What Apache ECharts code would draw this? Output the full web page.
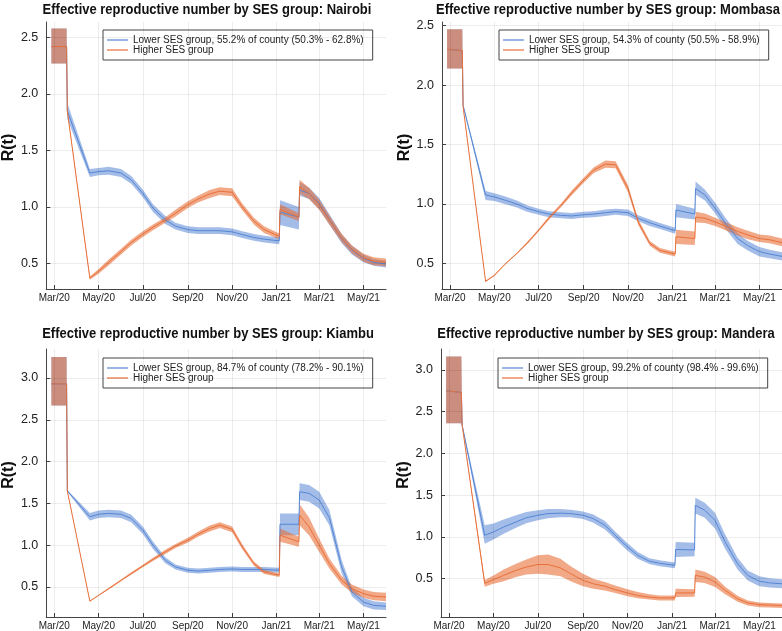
<!DOCTYPE html>
<html><head><meta charset="utf-8">
<script src="https://cdn.jsdelivr.net/npm/echarts@6/dist/echarts.min.js"></script>
<style>html,body{margin:0;padding:0;background:#fff}#c{width:782px;height:631px}</style>
</head><body><div id="c"></div>
<script>
// ---------- data ----------
const dates = ['2020-02-26','2020-03-18','2020-03-19','2020-04-19','2020-05-01','2020-05-15','2020-06-01','2020-06-15',
  '2020-07-01','2020-07-15','2020-08-01','2020-08-15','2020-09-01','2020-09-15','2020-10-01','2020-10-15',
  '2020-11-01','2020-11-15','2020-12-01','2020-12-15','2021-01-05','2021-01-06','2021-02-01','2021-02-02',
  '2021-02-15','2021-03-01','2021-03-15','2021-04-01','2021-04-15','2021-05-01','2021-05-15','2021-06-01'];

const xTickDates = ['2020-03-01','2020-05-01','2020-07-01','2020-09-01','2020-11-01','2021-01-01','2021-03-01','2021-05-01'];
const xTickLabels = ['Mar/20','May/20','Jul/20','Sep/20','Nov/20','Jan/21','Mar/21','May/21'];
const yTicksA = [0.5, 1.0, 1.5, 2.0, 2.5];
const yTicksB = [0.5, 1.0, 1.5, 2.0, 2.5, 3.0];

const countyNames = ['Nairobi', 'Mombasa', 'Kiambu', 'Mandera'];
const lowerLabels = [
  'Lower SES group, 55.2% of county (50.3% - 62.8%)',
  'Lower SES group, 54.3% of county (50.5% - 58.9%)',
  'Lower SES group, 84.7% of county (78.2% - 90.1%)',
  'Lower SES group, 99.2% of county (98.4% - 99.6%)'
];
const higherLabel = 'Higher SES group';

// Nairobi
const NAI_L_mean = [2.42,2.42,1.85,1.30,1.313,1.32,1.30,1.24,1.12,0.99,0.885,0.83,0.80,0.79,0.79,0.79,0.78,0.755,0.73,0.715,0.70,0.955,0.91,1.15,1.12,1.03,0.89,0.72,0.62,0.545,0.51,0.495];
const NAI_L_lo   = [2.27,2.27,1.78,1.265,1.28,1.285,1.265,1.205,1.085,0.955,0.85,0.80,0.77,0.76,0.76,0.76,0.75,0.725,0.70,0.685,0.67,0.84,0.80,1.10,1.07,0.98,0.845,0.68,0.58,0.51,0.48,0.465];
const NAI_L_hi   = [2.58,2.58,1.92,1.335,1.345,1.355,1.335,1.275,1.155,1.025,0.92,0.86,0.83,0.82,0.82,0.82,0.81,0.785,0.76,0.745,0.73,1.06,1.00,1.22,1.17,1.08,0.935,0.76,0.66,0.58,0.54,0.525];
const NAI_H_mean = [2.42,2.42,1.85,0.37,0.43,0.51,0.605,0.685,0.76,0.82,0.885,0.945,1.02,1.07,1.115,1.14,1.13,1.0,0.875,0.80,0.74,0.98,0.91,1.18,1.12,1.02,0.885,0.725,0.625,0.55,0.52,0.51];
const NAI_H_lo   = [2.27,2.27,1.84,0.355,0.41,0.485,0.58,0.66,0.735,0.795,0.86,0.915,0.99,1.04,1.08,1.105,1.095,0.97,0.845,0.77,0.715,0.935,0.875,1.12,1.07,0.975,0.845,0.69,0.59,0.515,0.485,0.475];
const NAI_H_hi   = [2.58,2.58,1.86,0.385,0.45,0.535,0.63,0.71,0.785,0.845,0.91,0.975,1.05,1.10,1.15,1.175,1.165,1.03,0.905,0.83,0.765,1.025,0.945,1.24,1.17,1.065,0.925,0.76,0.66,0.585,0.555,0.545];

// Mombasa
const MOM_L_mean = [2.30,2.29,1.83,1.076,1.06,1.034,1.0,0.964,0.936,0.916,0.905,0.90,0.91,0.916,0.927,0.936,0.927,0.88,0.843,0.815,0.776,0.95,0.916,1.13,1.076,0.964,0.84,0.71,0.65,0.60,0.58,0.56];
const MOM_L_lo   = [2.14,2.14,1.82,1.035,1.025,1.0,0.97,0.935,0.91,0.89,0.88,0.875,0.885,0.89,0.90,0.91,0.90,0.855,0.815,0.79,0.75,0.89,0.87,1.08,1.03,0.92,0.795,0.665,0.61,0.56,0.545,0.525];
const MOM_L_hi   = [2.47,2.47,1.84,1.11,1.09,1.065,1.03,0.99,0.96,0.94,0.93,0.925,0.935,0.94,0.955,0.96,0.955,0.905,0.87,0.84,0.80,1.0,0.96,1.19,1.12,1.01,0.885,0.755,0.69,0.64,0.615,0.595];
const MOM_H_mean = [2.30,2.29,1.82,0.35,0.40,0.49,0.585,0.67,0.78,0.88,0.99,1.09,1.20,1.286,1.336,1.33,1.13,0.85,0.67,0.61,0.58,0.725,0.71,0.89,0.88,0.85,0.815,0.77,0.74,0.71,0.70,0.675];
const MOM_H_lo   = [2.14,2.14,1.815,0.345,0.395,0.485,0.58,0.66,0.77,0.865,0.975,1.07,1.18,1.26,1.305,1.30,1.10,0.825,0.65,0.59,0.56,0.665,0.655,0.845,0.84,0.815,0.78,0.735,0.705,0.68,0.67,0.645];
const MOM_H_hi   = [2.47,2.47,1.825,0.355,0.405,0.495,0.59,0.68,0.79,0.895,1.005,1.11,1.22,1.31,1.365,1.36,1.16,0.875,0.69,0.63,0.60,0.785,0.77,0.935,0.92,0.885,0.85,0.805,0.775,0.745,0.735,0.71];

// Kiambu
const KIA_L_mean = [2.93,2.93,1.65,1.34,1.37,1.38,1.37,1.32,1.18,1.0,0.82,0.74,0.70,0.69,0.70,0.71,0.715,0.71,0.71,0.71,0.70,1.25,1.25,1.64,1.62,1.54,1.33,0.74,0.44,0.32,0.28,0.27];
const KIA_L_lo   = [2.67,2.67,1.64,1.295,1.325,1.335,1.325,1.275,1.135,0.955,0.785,0.71,0.67,0.66,0.67,0.68,0.685,0.68,0.68,0.68,0.67,1.12,1.12,1.54,1.52,1.44,1.24,0.66,0.39,0.27,0.23,0.225];
const KIA_L_hi   = [3.25,3.25,1.66,1.385,1.415,1.425,1.415,1.365,1.225,1.045,0.855,0.77,0.73,0.72,0.73,0.74,0.745,0.74,0.74,0.74,0.73,1.38,1.38,1.74,1.72,1.64,1.42,0.82,0.49,0.37,0.33,0.315];
const KIA_H_mean = [2.93,2.93,1.65,0.33,0.40,0.48,0.58,0.66,0.75,0.83,0.92,0.99,1.06,1.13,1.20,1.24,1.19,0.98,0.78,0.68,0.64,1.12,1.04,1.36,1.22,1.0,0.78,0.58,0.48,0.42,0.39,0.38];
const KIA_H_lo   = [2.67,2.67,1.645,0.325,0.395,0.47,0.57,0.645,0.735,0.81,0.895,0.965,1.03,1.10,1.165,1.205,1.155,0.95,0.755,0.655,0.62,1.04,0.98,1.24,1.12,0.92,0.72,0.53,0.43,0.37,0.34,0.33];
const KIA_H_hi   = [3.25,3.25,1.655,0.335,0.405,0.49,0.59,0.675,0.765,0.85,0.945,1.015,1.09,1.16,1.235,1.275,1.225,1.01,0.805,0.705,0.66,1.20,1.10,1.49,1.33,1.08,0.84,0.63,0.53,0.47,0.44,0.43];

// Mandera
const MAN_L_mean = [2.75,2.73,2.34,1.02,1.06,1.12,1.18,1.23,1.26,1.28,1.285,1.28,1.26,1.22,1.14,1.02,0.88,0.78,0.71,0.685,0.66,0.85,0.845,1.38,1.32,1.20,0.94,0.68,0.54,0.47,0.45,0.44];
const MAN_L_lo   = [2.36,2.36,2.33,0.92,0.97,1.04,1.11,1.165,1.20,1.225,1.235,1.235,1.215,1.17,1.09,0.975,0.835,0.74,0.675,0.65,0.625,0.76,0.77,1.28,1.23,1.10,0.86,0.61,0.48,0.41,0.395,0.385];
const MAN_L_hi   = [3.16,3.16,2.35,1.14,1.16,1.21,1.26,1.30,1.32,1.335,1.335,1.325,1.305,1.27,1.19,1.065,0.925,0.82,0.745,0.72,0.695,0.94,0.93,1.47,1.41,1.29,1.03,0.75,0.60,0.53,0.505,0.495];
const MAN_H_mean = [2.75,2.73,2.34,0.445,0.49,0.54,0.60,0.64,0.67,0.67,0.63,0.56,0.48,0.44,0.41,0.37,0.33,0.30,0.28,0.27,0.27,0.33,0.33,0.54,0.52,0.46,0.36,0.26,0.21,0.19,0.185,0.18];
const MAN_H_lo   = [2.36,2.36,2.33,0.405,0.44,0.47,0.52,0.55,0.56,0.55,0.53,0.47,0.41,0.38,0.36,0.33,0.29,0.265,0.25,0.24,0.24,0.28,0.285,0.46,0.45,0.40,0.315,0.225,0.18,0.16,0.155,0.15];
const MAN_H_hi   = [3.16,3.16,2.35,0.485,0.54,0.61,0.68,0.73,0.78,0.79,0.74,0.65,0.56,0.50,0.46,0.42,0.375,0.34,0.315,0.30,0.30,0.38,0.375,0.61,0.585,0.52,0.405,0.295,0.24,0.215,0.21,0.205];

const lowerData  = [[NAI_L_mean,NAI_L_lo,NAI_L_hi],[MOM_L_mean,MOM_L_lo,MOM_L_hi],[KIA_L_mean,KIA_L_lo,KIA_L_hi],[MAN_L_mean,MAN_L_lo,MAN_L_hi]];
const higherData = [[NAI_H_mean,NAI_H_lo,NAI_H_hi],[MOM_H_mean,MOM_H_lo,MOM_H_hi],[KIA_H_mean,KIA_H_lo,KIA_H_hi],[MAN_H_mean,MAN_H_lo,MAN_H_hi]];

// ---------- layout / style ----------
const grids = [
  {left:45, top:22, width:341, height:267},
  {left:442, top:22, width:340, height:267},
  {left:45.5, top:349, width:340.5, height:268},
  {left:441, top:349, width:341, height:268}
];
const xRange = ['2020-02-19', '2021-06-01'];
const yRanges = [[0.274, 2.637], [0.286, 2.53], [0.141, 3.347], [0.042, 3.25]];
const yTickSets = [yTicksA, yTicksA, yTicksB, yTicksB];
const titlePos = [[207, 9.5], [608, 9.5], [208, 333.5], [606, 333.5]];
const legendPos = [[103, 30], [499, 30], [103, 358], [498, 358]];

const BLUE = '#5586d4', ORANGE = '#e8703a';
const BLUE_BAND = 'rgba(88,134,214,0.55)', ORANGE_BAND = 'rgba(232,106,50,0.58)';
const SANS = "'Liberation Sans', Arial, sans-serif";

const toTime = d => new Date(d + 'T00:00:00').getTime();
const xTickTimes = xTickDates.map(toTime);
const dateTimes = dates.map(toTime);

const option = { animation:false, backgroundColor:'#fff', grid:[], xAxis:[], yAxis:[], legend:[], graphic:[], series:[] };

grids.forEach((g, p) => {
  option.grid.push(Object.assign({containLabel:false}, g));
  option.xAxis.push({
    type:'value', gridIndex:p, min:toTime(xRange[0]), max:toTime(xRange[1]), scale:true,
    axisLine:{show:true, onZero:false, lineStyle:{color:'#444', width:1}},
    axisTick:{show:true, inside:true, length:4, customValues:xTickTimes, lineStyle:{color:'#444'}},
    axisLabel:{customValues:xTickTimes, fontFamily:SANS, fontSize:10, color:'#222', margin:4,
      formatter: v => { const i = xTickTimes.indexOf(v); return i >= 0 ? xTickLabels[i] : ''; }},
    splitLine:{show:false}
  });
  option.yAxis.push({
    type:'value', gridIndex:p, min:yRanges[p][0], max:yRanges[p][1],
    name:'R(t)', nameLocation:'middle', nameGap:28, nameRotate:90,
    nameTextStyle:{fontFamily:SANS, fontWeight:'bold', fontSize:16, color:'#111', padding:[0,0,0,16]},
    axisLine:{show:true, onZero:false, lineStyle:{color:'#444', width:1}},
    axisTick:{show:true, inside:true, length:4, customValues:yTickSets[p], lineStyle:{color:'#444'}},
    axisLabel:{customValues:yTickSets[p], fontFamily:SANS, fontSize:12.5, color:'#222', margin:8,
      formatter: v => v.toFixed(1)},
    splitLine:{show:false}
  });
  option.graphic.push({
    type:'text', x:titlePos[p][0], y:titlePos[p][1], scaleX:0.865, originX:0, originY:0,
    style:{text:'Effective reproductive number by SES group: ' + countyNames[p],
      fontFamily:SANS, fontWeight:'bold', fontSize:15, fill:'#111', align:'center', verticalAlign:'middle'}
  });
  option.legend.push({
    left:legendPos[p][0], top:legendPos[p][1], orient:'vertical', selectedMode:false,
    data:[{name:lowerLabels[p], icon:'rect', itemStyle:{color:BLUE}}, {name:higherLabel, icon:'rect', itemStyle:{color:ORANGE}}],
    itemWidth:21, itemHeight:1.2, itemGap:0, padding:[5,9,5,4],
    borderColor:'#444', borderWidth:1, backgroundColor:'#fff',
    textStyle:{fontFamily:SANS, fontSize:10, lineHeight:10, color:'#222'}
  });

  // faint grid lines at tick positions
  option.series.push({
    type:'line', xAxisIndex:p, yAxisIndex:p, data:[], silent:true, z:0,
    markLine:{silent:true, symbol:['none','none'], label:{show:false}, animation:false,
      lineStyle:{color:'#000', opacity:0.07, width:1, type:'solid'},
      data:[...xTickTimes.map(t => ({xAxis:t})), ...yTickSets[p].map(v => ({yAxis:v}))]}
  });

  const groups = [
    {arr:lowerData[p], name:lowerLabels[p], line:BLUE, band:BLUE_BAND},
    {arr:higherData[p], name:higherLabel, line:ORANGE, band:ORANGE_BAND}
  ];
  groups.forEach(gr => {
    const [mean, lo, hi] = gr.arr;
    const rows = dateTimes.map((t,i) => [t, lo[i], hi[i]]);
    option.series.push({
      type:'custom', xAxisIndex:p, yAxisIndex:p, silent:true, z:2, clip:true,
      encode:{x:0, y:[1,2]},
      data:rows,
      renderItem: (params, api) => {
        if (params.dataIndex !== 0) return null;
        const upper = rows.map(r => api.coord([r[0], r[2]]));
        const lower = rows.map(r => api.coord([r[0], r[1]])).reverse();
        return {type:'polygon', shape:{points:upper.concat(lower)}, style:{fill:gr.band}, silent:true};
      }
    });
    option.series.push({
      type:'line', name:gr.name, xAxisIndex:p, yAxisIndex:p, symbol:'none', silent:true, z:2,
      color:gr.line, itemStyle:{color:gr.line}, lineStyle:{color:gr.line, width:1},
      data:dateTimes.map((t,i) => [t, mean[i]])
    });
  });
});

const chart = echarts.init(document.getElementById('c'), null, {renderer:'canvas'});
chart.setOption(option);
</script>
</body></html>
